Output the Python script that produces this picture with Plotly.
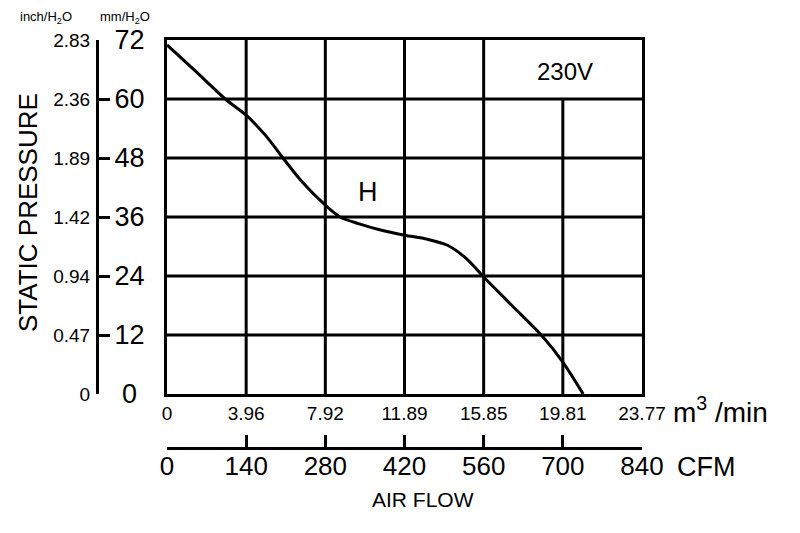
import plotly.graph_objects as go

# data
cfm_ticks = [0, 140, 280, 420, 560, 700, 840]
m3_labels = ["0", "3.96", "7.92", "11.89", "15.85", "19.81", "23.77"]
mm_ticks = [0, 12, 24, 36, 48, 60, 72]
inch_labels = ["0", "0.47", "0.94", "1.42", "1.89", "2.36", "2.83"]

curve_cfm = [0, 50, 103, 140, 175, 205, 240, 280, 306, 340, 376, 420, 460, 495, 530, 560, 610, 665, 700, 736]
curve_mm = [71, 65.7, 60, 56.7, 52.5, 48, 43, 38.4, 36, 34.6, 33.4, 32.3, 31.5, 30.3, 27.5, 23.8, 18, 11.6, 6.5, 0]

W, H = 800, 533
OFF = 8  # page body margin shifts the figure
def px(x):
    return (x - OFF) / W
def py(y):
    return 1 - (y - OFF) / H

FONT = "Liberation Sans, Arial"
xdom = [px(167), px(642)]
ydom = [py(394), py(40)]

fig = go.Figure()
fig.add_trace(go.Scatter(x=curve_cfm, y=curve_mm, mode="lines",
                         line=dict(color="black", width=3, shape="spline", smoothing=0.8),
                         showlegend=False, hoverinfo="skip"))

# grid (the 230V cell is merged, so the 700 line stops at 60)
shapes = []
for c in cfm_ticks[1:-1]:
    top = 60 if c == 700 else 72
    shapes.append(dict(type="line", xref="x", yref="y", x0=c, x1=c, y0=0, y1=top,
                       line=dict(color="black", width=3), layer="below"))
for m in mm_ticks[1:-1]:
    shapes.append(dict(type="line", xref="x", yref="y", x0=0, x1=840, y0=m, y1=m,
                       line=dict(color="black", width=3), layer="below"))

mm_text = [str(v) for v in mm_ticks]
mm_text[0] = "0\u2008"  # the lone 0 sits centred under the others

fig.update_layout(
    width=W, height=H, margin=dict(l=0, r=0, t=0, b=0),
    paper_bgcolor="white", plot_bgcolor="white",
    shapes=shapes,
    xaxis=dict(domain=xdom, range=[0, 840], showgrid=False, zeroline=False,
               showline=True, mirror=True, linewidth=3, linecolor="black",
               tickvals=cfm_ticks, ticktext=m3_labels, ticks="",
               tickfont=dict(family=FONT, size=19, color="black"),
               ticklabelstandoff=0, automargin=False),
    yaxis=dict(domain=ydom, range=[0, 72], showgrid=False, zeroline=False,
               showline=True, mirror=True, linewidth=3, linecolor="black",
               tickvals=mm_ticks, ticktext=mm_text, ticks="",
               tickfont=dict(family=FONT, size=27, color="black"),
               ticklabelstandoff=14, automargin=False),
    xaxis2=dict(overlaying="x", anchor="free", position=py(448), side="bottom",
                domain=xdom, range=[0, 840], showgrid=False, zeroline=False,
                showline=True, linewidth=3, linecolor="black",
                tickvals=cfm_ticks, ticktext=[str(v) for v in cfm_ticks],
                ticks="inside", ticklen=12, tickwidth=3, tickcolor="black",
                tickfont=dict(family=FONT, size=26, color="black"),
                ticklabelstandoff=-6, automargin=False),
    yaxis2=dict(overlaying="y", anchor="free", position=px(97), side="left",
                range=[0, 72], showgrid=False, zeroline=False,
                showline=True, linewidth=3, linecolor="black",
                tickvals=mm_ticks, ticktext=inch_labels,
                ticks="inside", ticklen=11, tickwidth=3, tickcolor="black",
                tickfont=dict(family=FONT, size=19, color="black"),
                ticklabelstandoff=2, automargin=False),
)
# empty traces so the extra axes render
fig.add_trace(go.Scatter(x=[None], y=[None], xaxis="x2", yaxis="y", showlegend=False))
fig.add_trace(go.Scatter(x=[None], y=[None], xaxis="x", yaxis="y2", showlegend=False))

ann = [
    dict(text="inch/H<sub>2</sub>O", x=18, y=17, size=13, anchor="left"),
    dict(text="mm/H<sub>2</sub>O", x=98, y=17, size=13, anchor="left"),
    dict(text="m<sup>3</sup> /min", x=671, y=410, size=28, anchor="left"),
    dict(text="CFM", x=675, y=467, size=27, anchor="left"),
    dict(text="AIR FLOW", x=423, y=499, size=21, anchor="center"),
]
for a in ann:
    fig.add_annotation(text=a["text"], x=px(a["x"]), y=py(a["y"]), xref="paper", yref="paper",
                       showarrow=False, xanchor=a["anchor"], yanchor="middle",
                       font=dict(family=FONT, size=a["size"], color="black"))
fig.add_annotation(text="STATIC PRESSURE", x=px(28), y=py(213), xref="paper", yref="paper",
                   showarrow=False, textangle=-90, xanchor="center", yanchor="middle",
                   font=dict(family=FONT, size=26, color="black"))
fig.add_annotation(text="230V", x=704, y=65.5, xref="x", yref="y", showarrow=False,
                   font=dict(family=FONT, size=24, color="black"))
fig.add_annotation(text="H", x=355, y=41, xref="x", yref="y", showarrow=False,
                   font=dict(family=FONT, size=27, color="black"))

fig.write_html("out.html")
